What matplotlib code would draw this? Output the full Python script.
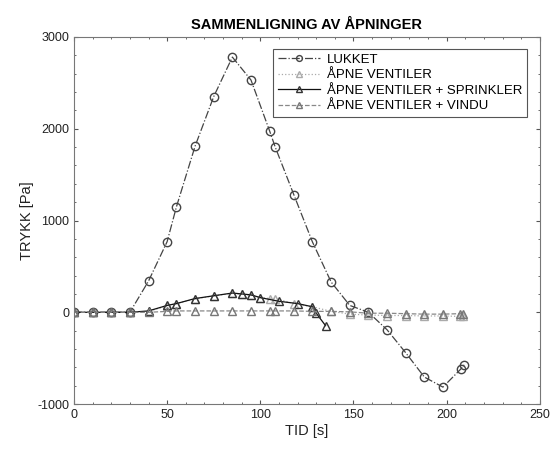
import numpy as np
from matplotlib import pyplot as plt
from matplotlib.ticker import MultipleLocator

plt.rcParams['font.family'] = ['Liberation Sans', 'DejaVu Sans']
plt.rcParams['axes.unicode_minus'] = False

# LUKKET
t_lukket = [0, 10, 20, 30, 40, 50, 55, 65, 75, 85, 95, 105, 108, 118, 128, 138,
            148, 158, 168, 178, 188, 198, 207.5, 209.5]
p_lukket = [0, 0, 0, 0, 340, 770, 1150, 1810, 2350, 2780, 2530, 1975, 1800, 1280,
            765, 330, 75, 0, -190, -440, -705, -815, -620, -570]

# ÅPNE VENTILER
t_apne = [0, 10, 20, 30, 40, 50, 55, 65, 75, 85, 90, 95, 100, 105, 108, 118, 128,
          138, 148, 158, 168, 178, 188, 198, 207, 209]
p_apne = [0, 0, 0, 0, 10, 70, 95, 145, 180, 205, 195, 185, 160, 150, 150, 95, 60,
          10, -20, -30, -35, -35, -40, -40, -45, -40]

# ÅPNE VENTILER + SPRINKLER
t_sprink = [0, 10, 20, 30, 40, 50, 55, 65, 75, 85, 90, 95, 100, 110, 120, 128, 130, 135]
p_sprink = [0, 0, 0, 0, 15, 75, 95, 150, 180, 210, 200, 190, 160, 120, 95, 60, -10, -145]

# ÅPNE VENTILER + VINDU
t_vindu = [0, 10, 20, 30, 40, 50, 55, 65, 75, 85, 95, 105, 108, 118, 128, 138, 148,
           158, 168, 178, 188, 198, 207, 209]
p_vindu = [0, 0, 0, 0, 0, 10, 15, 15, 15, 15, 15, 15, 15, 15, 10, 10, 5, -10, -10,
           -15, -20, -20, -15, -15]

fig = plt.figure(figsize=(5.5, 4.5), dpi=100)
ax = fig.add_axes([0.1345, 0.102, 0.847, 0.816])

ms = 6
ax.plot(t_lukket, p_lukket, linestyle='-.', color='#444444', linewidth=0.9,
        marker='o', markersize=ms, markerfacecolor='none', markeredgecolor='#444444',
        label='LUKKET')
ax.plot(t_apne, p_apne, linestyle=':', color='#aaaaaa', linewidth=0.9,
        marker='^', markersize=ms, markerfacecolor='none', markeredgecolor='#aaaaaa',
        label='ÅPNE VENTILER')
ax.plot(t_sprink, p_sprink, linestyle='-', color='#111111', linewidth=0.9,
        marker='^', markersize=ms, markerfacecolor='none', markeredgecolor='#333333',
        label='ÅPNE VENTILER + SPRINKLER')
ax.plot(t_vindu, p_vindu, linestyle='--', color='#888888', linewidth=0.9,
        marker='^', markersize=ms, markerfacecolor='none', markeredgecolor='#777777',
        label='ÅPNE VENTILER + VINDU')

ax.set_xlim(0, 250)
ax.set_ylim(-1000, 3000)
ax.set_xticks([0, 50, 100, 150, 200, 250])
ax.set_yticks([-1000, 0, 1000, 2000, 3000])
ax.xaxis.set_minor_locator(MultipleLocator(10))
ax.yaxis.set_minor_locator(MultipleLocator(200))
ax.tick_params(which='both', direction='in', top=True, right=True, colors='#555555',
               labelcolor='#222222', labelsize=9)
ax.tick_params(which='major', length=3)
ax.tick_params(which='minor', length=1.5)
for s in ax.spines.values():
    s.set_color('#777777')

ax.set_xlabel('TID [s]', fontsize=10.5, color='#222222', labelpad=2)
ax.set_ylabel('TRYKK [Pa]', fontsize=10.5, color='#222222', labelpad=2)
ax.set_title('SAMMENLIGNING AV ÅPNINGER', fontsize=10.5, fontweight='bold', pad=6)

leg = ax.legend(loc='upper right', fontsize=9.5, fancybox=False, framealpha=1,
                edgecolor='#555555', handlelength=3.2, borderpad=0.35,
                labelspacing=0.25, markerscale=0.7, handletextpad=0.5,
                bbox_to_anchor=(0.972, 0.967), borderaxespad=0)
leg.get_frame().set_linewidth(0.8)

fig.savefig('out.png', dpi=100)
